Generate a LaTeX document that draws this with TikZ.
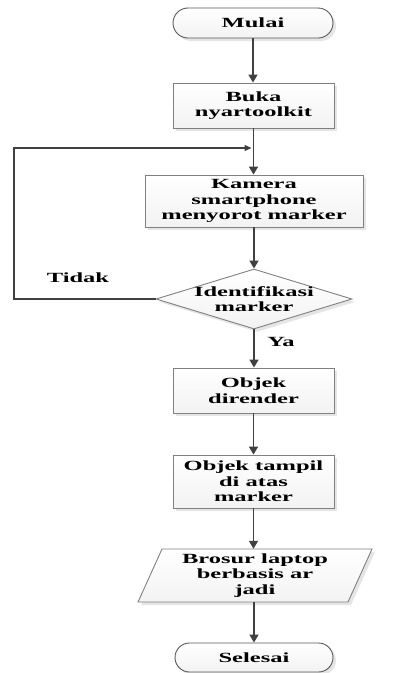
\documentclass[tikz,border=0pt]{standalone}
\usepackage{fontspec}
\setmainfont{Liberation Serif}[FakeStretch=1.75]
\usetikzlibrary{shapes.misc,shapes.geometric,arrows.meta,shadows}
\definecolor{edge}{HTML}{808080}
\definecolor{wire}{HTML}{404040}
\begin{document}
\begin{tikzpicture}[x=1pt,y=-1pt,
  every node/.style={font=\fontsize{14}{15.5}\selectfont\bfseries, text=black, align=center},
  boxfill/.style={top color=white, bottom color=gray!10, draw=edge, line width=0.9pt,
    drop shadow={shadow xshift=3pt, shadow yshift=-3pt, fill=gray!25, opacity=0.8}},
  process/.style={rectangle, boxfill, inner sep=0pt},
  terminal/.style={rounded rectangle, boxfill, draw=gray!70!black, inner sep=0pt},
  decision/.style={diamond, boxfill, inner sep=0pt},
  flow/.style={draw=wire, line width=1.6pt, -{Triangle[length=8pt,width=9pt]}},
  loopback/.style={draw=wire, line width=1.3pt, -{Triangle[length=7pt,width=6pt]}, shorten >=2pt},
  tag/.style={font=\fontsize{14}{15.5}\selectfont\bfseries}]
\useasboundingbox (0,0) rectangle (394,673);

% start and processing steps
\node[terminal, minimum width=160pt, minimum height=30pt] (mulai) at (253,23) {Mulai};
\node[process, minimum width=161pt, minimum height=45pt] (buka) at (253.5,105.5) {Buka\\nyartoolkit};
\node[process, minimum width=218pt, minimum height=52pt] (kamera) at (254,201) {Kamera\\smartphone\\menyorot marker};

% decision
\node[decision, minimum width=196pt, minimum height=60pt] (ident) at (254,299) {};
\node (identtext) at (ident) {Identifikasi\\marker};

\node[process, minimum width=161pt, minimum height=45pt] (objek) at (253.5,390.5) {Objek\\dirender};
\node[process, minimum width=161pt, minimum height=53pt] (tampil) at (253.5,481.5) {Objek tampil\\di atas\\marker};

% output (parallelogram)
\path[boxfill] (162,549) -- (372,549) -- (348,602) -- (138,602) -- cycle;
\node[minimum width=210pt, minimum height=53pt, inner sep=0pt] (brosur) at (255,575.5) {Brosur laptop\\berbasis ar\\jadi};

\node[terminal, minimum width=158pt, minimum height=29pt] (selesai) at (254,657.5) {Selesai};

% loop return point
\coordinate (join) at (253.5,148);
\coordinate (left) at (14,299);

% connectors
\draw[flow] (mulai.south) -- (mulai.south |- buka.north);
\draw[flow] (buka.south) -- (buka.south |- kamera.north);
\draw[flow] (kamera.south) -- (ident.north);
\draw[loopback] (ident.west) -- (left) |- (join);
\draw[flow] (ident.south) -- (ident.south |- objek.north);
\draw[flow] (objek.south) -- (objek.south |- tampil.north);
\draw[flow] (tampil.south) -- (tampil.south |- brosur.north);
\draw[flow] (brosur.south -| selesai.north) -- (selesai.north);

% branch labels
\node[tag] (tidak) at (78,278) {Tidak};
\node[tag] (ya) at (281,342) {Ya};
\end{tikzpicture}
\end{document}
